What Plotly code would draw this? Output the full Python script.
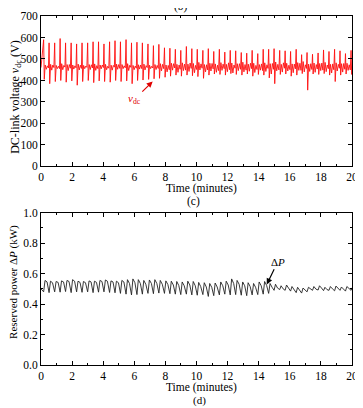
import plotly.graph_objects as go

# ---------------- data ----------------
cycle_t = [0.17, 0.52, 0.88, 1.23, 1.58, 1.94, 2.29, 2.64, 3.00, 3.35, 3.70, 4.05, 4.41, 4.76,
           5.11, 5.47, 5.82, 6.17, 6.52, 6.88, 7.23, 7.58, 7.94, 8.29, 8.64, 8.99, 9.35, 9.70,
           10.05, 10.41, 10.76, 11.11, 11.47, 11.82, 12.17, 12.52, 12.88, 13.23, 13.58, 13.94,
           14.29, 14.64, 14.99, 15.35, 15.70, 16.05, 16.41, 16.76, 17.11, 17.46, 17.82, 18.17,
           18.52, 18.88, 19.23, 19.58, 19.94]

vdc_peak = [590, 575, 575, 595, 575, 575, 570, 575, 575, 580, 580, 570, 580, 585, 580, 590,
            575, 578, 575, 570, 562, 568, 552, 550, 545, 540, 558, 548, 545, 540, 548, 535,
            545, 532, 540, 538, 530, 527, 540, 525, 545, 545, 548, 540, 538, 535, 545, 520,
            530, 522, 528, 542, 535, 545, 538, 525, 540]
vdc_trough = [405, 385, 395, 400, 392, 398, 378, 395, 400, 390, 398, 395, 392, 400, 395, 398,
              385, 400, 402, 405, 408, 410, 415, 420, 425, 420, 425, 422, 418, 410, 425, 430,
              428, 425, 432, 428, 425, 430, 420, 428, 425, 412, 385, 428, 430, 420, 425, 432,
              355, 430, 428, 432, 425, 395, 425, 430, 428]
vdc_m1 = [472, 475, 470, 478, 474, 472, 476, 470, 474, 477, 472, 475, 471, 476, 474, 478, 470,
          473, 476, 471, 474, 478, 472, 480, 475, 482, 476, 479, 484, 474, 480, 477, 483, 475,
          481, 478, 485, 476, 480, 474, 482, 478, 486, 475, 480, 477, 483, 488, 476, 481, 479,
          484, 475, 482, 478, 480, 476]
vdc_m2 = [452, 448, 455, 450, 446, 453, 449, 455, 451, 447, 454, 450, 448, 452, 455, 446, 450,
          453, 449, 455, 451, 445, 440, 448, 438, 446, 442, 436, 449, 440, 444, 438, 447, 441,
          435, 446, 440, 443, 437, 448, 442, 430, 445, 439, 444, 436, 447, 440, 442, 438, 446,
          441, 435, 444, 439, 447, 442]
vdc_m3 = [468, 472, 466, 470, 474, 468, 471, 467, 473, 469, 472, 466, 470, 474, 468, 471, 467,
          472, 469, 466, 470, 475, 470, 478, 472, 476, 481, 470, 477, 473, 479, 471, 476, 482,
          472, 478, 474, 480, 470, 477, 473, 479, 475, 482, 471, 476, 480, 473, 478, 474, 481,
          472, 477, 475, 479, 473, 476]
vdc_m4 = [458, 460, 455, 462, 457, 459, 456, 461, 458, 455, 460, 457, 462, 456, 459, 461, 457,
          455, 460, 458, 456, 455, 450, 458, 452, 448, 456, 451, 457, 449, 454, 446, 455, 450,
          457, 452, 448, 455, 451, 446, 456, 452, 449, 457, 450, 454, 447, 456, 451, 453, 448,
          455, 450, 457, 452, 449, 455]

dp_low = [0.48, 0.475, 0.48, 0.478, 0.482, 0.475, 0.48, 0.477, 0.48, 0.475, 0.478, 0.48, 0.476,
          0.474, 0.47,
          0.465, 0.46, 0.462, 0.465, 0.47, 0.468, 0.472, 0.47, 0.468, 0.465, 0.462, 0.465, 0.46,
          0.458, 0.462, 0.45, 0.455, 0.46, 0.465, 0.46, 0.462, 0.458, 0.455, 0.46, 0.462, 0.465,
          0.47,
          0.49, 0.495, 0.49, 0.485, 0.475, 0.472, 0.48, 0.49, 0.492, 0.488, 0.49, 0.487, 0.49,
          0.485, 0.49]
dp_high = [0.555, 0.55, 0.548, 0.552, 0.555, 0.56, 0.55, 0.548, 0.552, 0.55, 0.555, 0.558, 0.552,
           0.55, 0.555,
           0.56, 0.565, 0.56, 0.555, 0.558, 0.56, 0.555, 0.552, 0.55, 0.548, 0.545, 0.55, 0.548,
           0.542, 0.54, 0.535, 0.538, 0.545, 0.55, 0.565, 0.555, 0.545, 0.54, 0.535, 0.545, 0.548,
           0.535,
           0.53, 0.52, 0.525, 0.515, 0.51, 0.505, 0.51, 0.515, 0.52, 0.51, 0.515, 0.518, 0.512,
           0.515, 0.51]
dp_shoulder = [0.545, 0.54, 0.542, 0.545, 0.548, 0.55, 0.542, 0.54, 0.545, 0.542, 0.548, 0.55,
               0.545, 0.54, 0.545,
               0.535, 0.54, 0.535, 0.53, 0.535, 0.535, 0.53, 0.528, 0.525, 0.522, 0.52, 0.525,
               0.52, 0.515, 0.512, 0.51, 0.512, 0.52, 0.525, 0.535, 0.53, 0.52, 0.515, 0.51,
               0.52, 0.522, 0.51,
               0.505, 0.5, 0.505, 0.495, 0.49, 0.495, 0.5, 0.498, 0.505, 0.495, 0.5, 0.502,
               0.497, 0.5, 0.498]

x_ticks = [0, 2, 4, 6, 8, 10, 12, 14, 16, 18, 20]
vdc_ticks = [0, 100, 200, 300, 400, 500, 600, 700]
dp_ticks = [0.0, 0.2, 0.4, 0.6, 0.8, 1.0]

# ---------------- assemble traces ----------------
vx, vy = [0.0], [460]
for i, t in enumerate(cycle_t):
    vx += [t, t + 0.04, t + 0.10, t + 0.17, t + 0.24, t + 0.31]
    vy += [vdc_peak[i], vdc_trough[i], vdc_m1[i], vdc_m2[i], vdc_m3[i], vdc_m4[i]]

px_, py_ = [0.0], [0.50]
for i, t in enumerate(cycle_t):
    px_ += [t, t + 0.09, t + 0.22]
    py_ += [dp_low[i], dp_high[i], dp_shoulder[i]]

FONT = "Liberation Serif"
fig = go.Figure()
fig.add_trace(go.Scatter(x=vx, y=vy, mode="lines", line=dict(color="#ff1010", width=0.9),
                         xaxis="x", yaxis="y", showlegend=False, hoverinfo="skip"))
fig.add_trace(go.Scatter(x=px_, y=py_, mode="lines", line=dict(color="#222222", width=0.9),
                         xaxis="x2", yaxis="y2", showlegend=False, hoverinfo="skip"))

axis_common = dict(showline=True, linecolor="black", linewidth=1, mirror="ticks",
                   ticks="inside", ticklen=4, tickwidth=1, tickcolor="black",
                   showgrid=False, zeroline=False,
                   tickfont=dict(family=FONT, size=11.5, color="black"))

# the page body adds an 8 px offset, so the figure is 8 px smaller each way
fig.update_layout(
    width=355, height=400,
    margin=dict(l=33, r=11, t=2, b=43),
    paper_bgcolor="white", plot_bgcolor="white",
    font=dict(family=FONT, color="black"),
    xaxis=dict(domain=[0, 1], anchor="y", range=[0, 20], tickvals=x_ticks,
               minor=dict(ticks="inside", ticklen=2, dtick=1, tickcolor="black"), **axis_common),
    yaxis=dict(domain=[0.569, 1], anchor="x", range=[0, 700], tickvals=vdc_ticks, **axis_common),
    xaxis2=dict(domain=[0, 1], anchor="y2", range=[0, 20], tickvals=x_ticks,
                minor=dict(ticks="inside", ticklen=2, dtick=1, tickcolor="black"), **axis_common),
    yaxis2=dict(domain=[0, 0.4366], anchor="x2", range=[0, 1], tickvals=dp_ticks,
                tickformat=".1f",
                minor=dict(ticks="inside", ticklen=2, dtick=0.1, tickcolor="black"), **axis_common),
)

ann = []
def txt(x, y, s, size=12, angle=0):
    ann.append(dict(x=x, y=y, xref="paper", yref="paper", text=s, showarrow=False,
                    textangle=angle, font=dict(family=FONT, size=size, color="black"),
                    xanchor="center", yanchor="middle"))

txt(0.45, 1.028, "(b)", 11.5)
txt(0.515, 0.507, "Time (minutes)", 11.5)
txt(0.49, 0.468, "(c)", 11.5)
txt(0.515, -0.065, "Time (minutes)", 11.5)
txt(0.51, -0.102, "(d)", 11)
txt(-0.083, 0.769, "DC-link voltage <i>v</i><sub>dc</sub> (V)", 12, -90)
txt(-0.088, 0.237, "Reserved power Δ<i>P</i> (kW)", 11, -90)

ann.append(dict(x=7.18, y=395, xref="x", yref="y", ax=6.0, ay=312, axref="x", ayref="y",
                text="<i>v</i><sub>dc</sub>", showarrow=True, arrowhead=2, arrowsize=1,
                arrowwidth=1.2, arrowcolor="#e00000",
                font=dict(family=FONT, size=11, color="#e00000")))
ann.append(dict(x=14.52, y=0.529, xref="x2", yref="y2", ax=15.23, ay=0.677, axref="x2",
                ayref="y2", text="Δ<i>P</i>", showarrow=True, arrowhead=2, arrowsize=1,
                arrowwidth=1.2, arrowcolor="black",
                font=dict(family=FONT, size=11, color="black")))
fig.update_layout(annotations=ann)

fig.write_html("out.html")
